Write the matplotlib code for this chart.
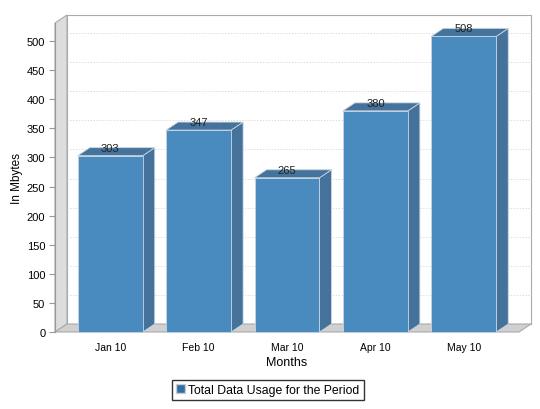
import matplotlib
matplotlib.use("Agg")
import matplotlib.pyplot as plt

# chart data
months = ["Jan 10", "Feb 10", "Mar 10", "Apr 10", "May 10"]
usage = [303, 347, 265, 380, 508]
y_ticks = [0, 50, 100, 150, 200, 250, 300, 350, 400, 450, 500]
y_max = 531
series_name = "Total Data Usage for the Period"

plt.rcParams['font.family'] = ['Liberation Sans', 'DejaVu Sans']

W, H = 540, 410
fig = plt.figure(figsize=(W / 100, H / 100), dpi=100)

# front plane of the plot, in pixels
px_left, px_right, px_bottom, px_top = 55, 519, 333, 24
ax = fig.add_axes([px_left / W, 1 - px_bottom / H,
                   (px_right - px_left) / W, (px_bottom - px_top) / H])
x_lo, x_hi = -0.625, len(months) - 0.375
ax.set_xlim(x_lo, x_hi)
ax.set_ylim(0, y_max)

# 3D offset converted to data units
off_px_x, off_px_y = 12, 8
px_per_x = (px_right - px_left) / (x_hi - x_lo)
px_per_y = (px_bottom - px_top) / y_max
dx = off_px_x / px_per_x
dy = off_px_y / px_per_y

wall = "#dddddd"
floor = "#d0d0d0"
edge = "#aaaaaa"

# back wall outline
ax.plot([x_lo + dx, x_lo + dx, x_hi + dx, x_hi + dx],
        [dy, y_max + dy, y_max + dy, dy], color=edge, lw=0.8, clip_on=False, zorder=1)
# left wall
ax.fill([x_lo, x_lo + dx, x_lo + dx, x_lo], [0, dy, y_max + dy, y_max],
        facecolor=wall, edgecolor=edge, lw=0.8, clip_on=False, zorder=1)
# floor
ax.fill([x_lo, x_lo + dx, x_hi + dx, x_hi], [0, dy, dy, 0],
        facecolor=floor, edgecolor=edge, lw=0.8, clip_on=False, zorder=1)

# gridlines on back wall
for t in y_ticks[1:]:
    ax.plot([x_lo + dx, x_hi + dx], [t + dy, t + dy], color="#d4d4d4",
            lw=0.6, ls=(0, (1.5, 2)), clip_on=False, zorder=1)

front = "#4a8bbf"
side = "#44729a"
top = "#45739b"
bw = 0.735
for i, v in enumerate(usage):
    x0, x1 = i - bw / 2, i + bw / 2
    ax.fill([x1, x1 + dx, x1 + dx, x1], [0, dy, v + dy, v],
            facecolor=side, edgecolor="#c8d4e0", lw=0.6, clip_on=False, zorder=3)
    ax.fill([x0, x0 + dx, x1 + dx, x1], [v, v + dy, v + dy, v],
            facecolor=top, edgecolor="#c8d4e0", lw=0.6, clip_on=False, zorder=3)
    ax.fill([x0, x1, x1, x0], [0, 0, v, v],
            facecolor=front, edgecolor="#c8d4e0", lw=0.6, clip_on=False, zorder=4)
    ax.text(i, v + dy, str(v), ha="center", va="center", fontsize=8,
            color="#222222", zorder=5)

for s in ["top", "right", "bottom"]:
    ax.spines[s].set_visible(False)
ax.spines["left"].set_color("#999999")
ax.spines["left"].set_linewidth(0.8)
ax.patch.set_visible(False)

ax.set_yticks(y_ticks)
ax.set_xticks(range(len(months)))
ax.set_xticklabels(months)
ax.tick_params(axis="y", length=4, color="#999999", labelsize=8, pad=3)
ax.tick_params(axis="x", length=0, labelsize=7.5, pad=7)
ax.set_xlabel("Months", fontsize=9, labelpad=3)
ax.set_ylabel("In Mbytes", fontsize=8.5)
ax.yaxis.set_label_coords((23 - px_left) / (px_right - px_left), 0.5)

handle = plt.Rectangle((0, 0), 1, 1, facecolor="#2f6ea8", edgecolor="#cccccc")
fig.legend([handle], [series_name], loc="center", bbox_to_anchor=(268 / W, 1 - 391 / H),
           fontsize=8.8, frameon=True, fancybox=False, edgecolor="black",
           handlelength=0.7, handleheight=0.7, handletextpad=0.3,
           borderpad=0.35, borderaxespad=0)

fig.savefig("out.png", dpi=100)
